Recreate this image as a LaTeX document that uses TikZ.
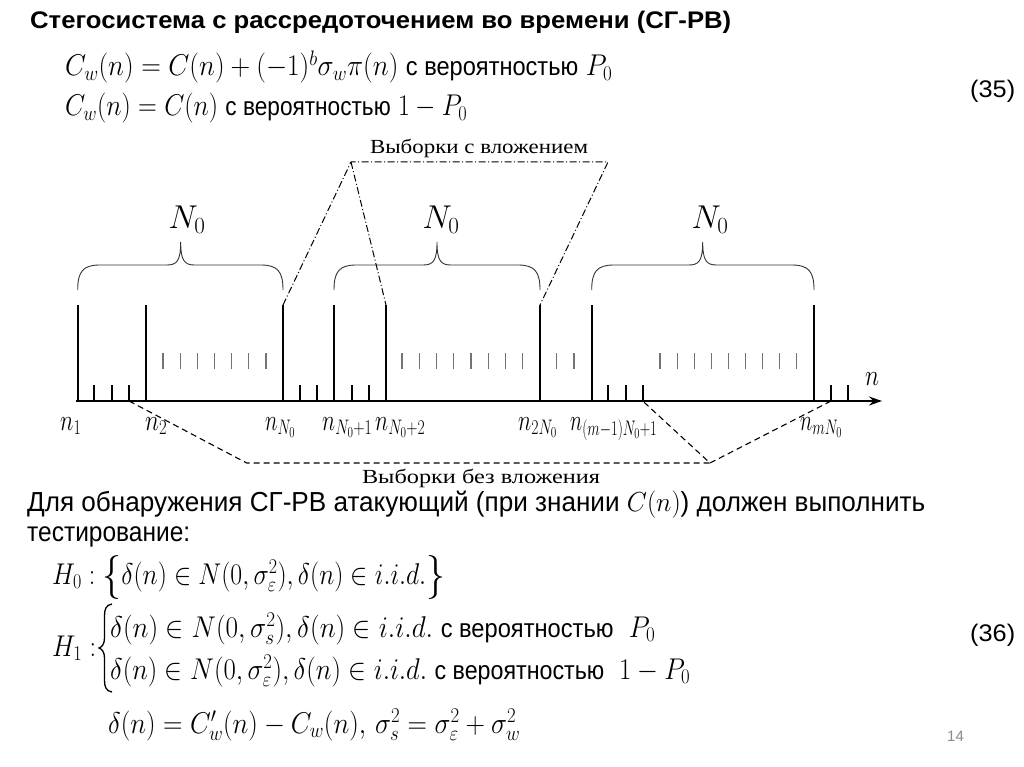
\documentclass[tikz,border=0pt]{standalone}
\usepackage{fix-cm}
\usepackage{amsmath}
\usepackage{fontspec}
\setmainfont{Liberation Sans}
\newfontfamily\serifcyr{Liberation Serif}
\usepackage{graphicx}
\usetikzlibrary{arrows.meta}
\newcommand\fitto[2]{\resizebox{#1}{\height}{#2}}
\newcommand\vt[1]{{\fontsize{26}{30}\selectfont #1}}
\newcommand\bigbr[1]{\raisebox{-4pt}{\fontsize{44}{44}\selectfont$#1$}}
\definecolor{pagenum}{RGB}{140,140,140}
\tikzset{
  txt/.style={inner sep=0pt, anchor=base west},
  bar/.style={line width=2.4pt, line cap=butt},
  stick/.style={line width=1.8pt},
  gtick/.style={line width=1.1pt, draw=black!55},
  bracepath/.style={line width=0.9pt, draw=black!80},
  ddline/.style={line width=1pt, dash pattern=on 7pt off 2.5pt on 1pt off 2.5pt},
  dsline/.style={line width=1.1pt, dash pattern=on 6pt off 4pt},
  nlab/.style={inner sep=0pt, anchor=base west, font=\fontsize{30}{34}\selectfont},
  Nlab/.style={inner sep=0pt, anchor=base, font=\fontsize{33}{37}\selectfont},
  eqf/.style={font=\fontsize{30}{34}\selectfont},
}
\begin{document}
\begin{tikzpicture}[x=1pt,y=-1pt]
\useasboundingbox[fill=white] (0,0) rectangle (1024,767);

% ---------- header ----------
\node[txt, font=\bfseries\fontsize{24}{28}\selectfont] (title) at (30,29)
  {\fitto{701pt}{Стегосистема с рассредоточением во времени (СГ-РВ)}};
\node[txt, eqf] (eq1) at (65,76)
  {\fitto{547pt}{$C_w(n)=C(n)+(-1)^b\sigma_w\pi(n)$ \vt{с вероятностью} $P_0$}};
\node[txt, eqf] (eq2) at (65,116)
  {\fitto{402pt}{$C_w(n)=C(n)$ \vt{с вероятностью} $1-P_0$}};
\node[txt, font=\fontsize{24}{28}\selectfont] (n35) at (970,98) {\fitto{45pt}{(35)}};

% ---------- diagram: coordinates ----------
\coordinate (ax0) at (76,401);
\coordinate (ax1) at (882,401);
\foreach \nm/\x in {b1/77.7, b2/146, bN/283, bN1/334, bN2/386, b2N/540, bm1/591.7, bmN/814}
  \coordinate (\nm) at (\x,401);
\foreach \nm/\x in {s1/94.3, s2/112, s3/129, s4/300, s5/317, s6/351.7, s7/369, s8/608, s9/625.7, s10/642.7, s11/831, s12/848}
  \coordinate (\nm) at (\x,401);

% axis
\draw[line width=1.5pt, -{Stealth[length=13pt,width=9pt]}] (ax0) -- (ax1);
% tall bars
\foreach \nm in {b1,b2,bN,bN1,bN2,b2N,bm1,bmN}
  \draw[bar] (\nm) -- ++(0,-96) coordinate (\nm t);
% short ticks
\foreach \nm in {s1,s2,s3,s4,s5,s6,s7,s8,s9,s10,s11,s12}
  \draw[stick] (\nm) -- ++(0,-16);
% gray floating ticks
\foreach \x in {163,180.2,197.3,214.5,231.7,248.8,266,
                402,419.2,436.5,453.7,471,488.2,505.5,522.7,
                556.7,574,
                660,677.1,694.2,711.3,728.4,745.4,762.5,779.6,796.7}
  \draw[gtick] (\x,353) -- (\x,369);

% braces
\foreach \xa/\xm/\xb in {77.7/180.7/283, 334/437/540, 591.7/702.7/814}{
  \draw[bracepath] (\xa,290) .. controls (\xa,272) and (\xa+5,265) .. (\xa+22,265)
     -- (\xm-14,265) .. controls (\xm-4,265) and (\xm,261) .. (\xm,242)
     .. controls (\xm,261) and (\xm+4,265) .. (\xm+14,265)
     -- (\xb-22,265) .. controls (\xb-5,265) and (\xb,272) .. (\xb,290);
}
\node[Nlab] (N0a) at (187,229) {$N_0$};
\node[Nlab] (N0b) at (441,229) {$N_0$};
\node[Nlab] (N0c) at (710,229) {$N_0$};

% axis labels
\node[nlab] (l1) at (60,430) {\fitto{21pt}{$n_1$}};
\node[nlab] (l2) at (145,430) {\fitto{22pt}{$n_2$}};
\node[nlab] (l3) at (265,430) {\fitto{30pt}{$n_{N_0}$}};
\node[nlab] (l4) at (322,430) {\fitto{50pt}{$n_{N_0+1}$}};
\node[nlab] (l5) at (375,430) {\fitto{50pt}{$n_{N_0+2}$}};
\node[nlab] (l6) at (518,430) {\fitto{39pt}{$n_{2N_0}$}};
\node[nlab] (l7) at (570,430) {\fitto{87pt}{$n_{(m-1)N_0+1}$}};
\node[nlab] (l8) at (800,430) {\fitto{42pt}{$n_{mN_0}$}};
\node[nlab] (ln) at (865,385) {\fitto{14pt}{$n$}};

% dash-dot group
\coordinate (ddA) at (351,162);
\coordinate (ddB) at (608,162);
\draw[ddline] (bNt) -- (ddA) -- (ddB) -- (b2Nt);
\draw[ddline] (ddA) -- (bN2t);
\node[inner sep=0pt, anchor=base, font=\serifcyr\fontsize{20}{23}\selectfont] (lblw) at (479,154)
  {\fitto{218pt}{Выборки с вложением}};

% dashed group
\coordinate (dsC) at (246.7,463);
\coordinate (dsD) at (710,463);
\draw[dsline] (s3) -- (dsC) -- (dsD) -- (s10);
\draw[dsline] (dsD) -- (s11);
\node[inner sep=0pt, anchor=base, font=\serifcyr\fontsize{20}{23}\selectfont] (lblwo) at (481,483)
  {\fitto{238pt}{Выборки без вложения}};

% ---------- lower text ----------
\node[txt, font=\fontsize{27.5}{31}\selectfont] (body1) at (27,511)
  {\fitto{898pt}{Для обнаружения СГ-РВ атакующий (при знании $C(n)$) должен выполнить}};
\node[txt, font=\fontsize{27.5}{31}\selectfont] (body2) at (27,541)
  {\fitto{163pt}{тестирование:}};

\node[txt, eqf] (h0) at (52,584)
  {\fitto{393pt}{$H_0:\bigbr{\{}\delta(n)\in N(0,\sigma_\varepsilon^2),\delta(n)\in i.i.d.\bigbr{\}}$}};
\node[txt, eqf] (h1) at (52,656) {\fitto{44pt}{$H_1:$}};
\coordinate (brtop) at (112,604);
\coordinate (brbot) at (112,692);
\coordinate (brtip) at (99,648);
\draw[line width=1.3pt] (brtop) .. controls (106,605) and (104.5,609) .. (104.5,616)
   -- (104.5,638) .. controls (104.5,644) and (102,647) .. (brtip)
   .. controls (102,649) and (104.5,652) .. (104.5,658)
   -- (104.5,680) .. controls (104.5,687) and (106,691) .. (brbot);
\node[txt, eqf] (h1a) at (110,637)
  {\fitto{545pt}{$\delta(n)\in N(0,\sigma_s^2),\delta(n)\in i.i.d.$ \vt{с вероятностью} \ $P_0$}};
\node[txt, eqf] (h1b) at (110,679)
  {\fitto{580pt}{$\delta(n)\in N(0,\sigma_\varepsilon^2),\delta(n)\in i.i.d.$ \vt{с вероятностью} \ $1-P_0$}};
\node[txt, font=\fontsize{24}{28}\selectfont] (n36) at (970,641) {\fitto{45pt}{(36)}};
\node[txt, eqf] (last) at (108,733)
  {\fitto{412pt}{$\delta(n)=C'_w(n)-C_w(n),\,\sigma_s^2=\sigma_\varepsilon^2+\sigma_w^2$}};
\node[txt, font=\fontsize{15}{17}\selectfont, text=pagenum] (pg) at (947,741) {14};
\end{tikzpicture}
\end{document}
